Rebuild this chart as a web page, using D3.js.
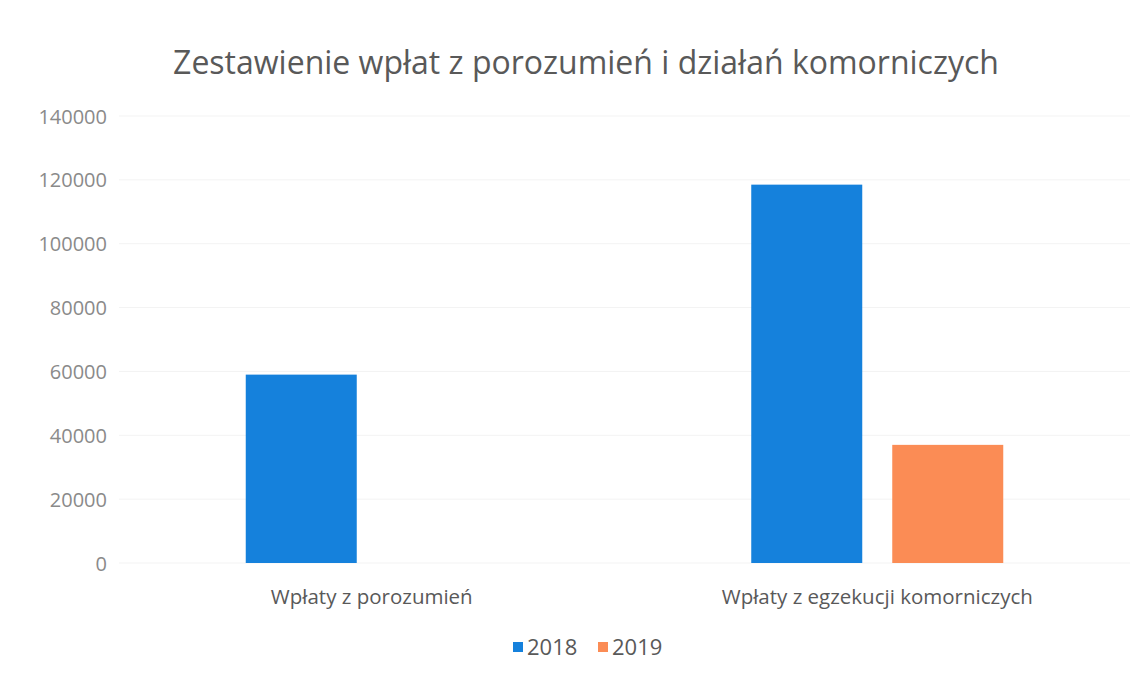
<!DOCTYPE html>
<html>
<head>
<meta charset="utf-8">
<script src="https://cdn.jsdelivr.net/npm/d3@7"></script>
<style>
  body { margin: 0; background: #fff; }
  text { font-family: "Open Sans", "DejaVu Sans", sans-serif; }
</style>
</head>
<body>
<script>
// chart data
const categories = ["Wpłaty z porozumień", "Wpłaty z egzekucji komorniczych"];
const seriesNames = ["2018", "2019"];
const values2018 = [59000, 118500];
const values2019 = [0, 37000];
const yTicks = [0, 20000, 40000, 60000, 80000, 100000, 120000, 140000];
const colors = ["#1581dc", "#fb8c55"];

const W = 1146, H = 676;
const svg = d3.select("body")
  .append("svg")
  .attr("width", W)
  .attr("height", H);

const plotLeft = 119, plotRight = 1130;
const plotTop = 115, plotBottom = 563;

const x0 = d3.scaleBand()
  .domain(categories)
  .range([plotLeft, plotRight]);

// two bars of ~111px with a 30px gap inside each group
const groupW = 252;
const x1 = d3.scaleBand()
  .domain(seriesNames)
  .range([0, groupW])
  .paddingInner(30 / 141);

const y = d3.scaleLinear()
  .domain([0, 140000])
  .range([plotBottom, plotTop + 1]);

// faint grid
svg.append("g")
  .selectAll("line")
  .data(yTicks)
  .join("line")
  .attr("x1", plotLeft)
  .attr("x2", plotRight)
  .attr("y1", d => y(d))
  .attr("y2", d => y(d))
  .attr("stroke", "#f3f3f3")
  .attr("stroke-width", 1);

// y axis labels
const yAxis = d3.axisLeft(y).tickValues(yTicks).tickFormat(d3.format("d")).tickSize(0).tickPadding(0);
svg.append("g")
  .attr("transform", "translate(107,0)")
  .call(yAxis)
  .call(g => g.select(".domain").remove())
  .call(g => g.selectAll("text")
    .attr("fill", "#8a8a8a")
    .attr("font-size", "20px")
    .attr("font-family", "'Open Sans', sans-serif")
    .attr("dy", "0.35em"));

// bars
const rows = categories.map((c, i) => ({cat: c, vals: [values2018[i], values2019[i]]}));
const groupOffset = (x0.bandwidth() - groupW) / 2;

svg.append("g")
  .selectAll("g")
  .data(rows)
  .join("g")
  .attr("transform", d => `translate(${x0(d.cat) + groupOffset},0)`)
  .selectAll("rect")
  .data(d => d.vals.map((v, j) => ({key: seriesNames[j], v: v, j: j})))
  .join("rect")
  .attr("x", d => x1(d.key))
  .attr("width", x1.bandwidth())
  .attr("y", d => y(d.v))
  .attr("height", d => plotBottom - y(d.v))
  .attr("fill", d => colors[d.j]);

// category labels
const xAxis = d3.axisBottom(x0).tickSize(0).tickPadding(0);
svg.append("g")
  .attr("transform", `translate(0,${plotBottom})`)
  .call(xAxis)
  .call(g => g.select(".domain").remove())
  .call(g => g.selectAll("text")
    .attr("fill", "#595959")
    .attr("font-size", "20.5px")
    .attr("font-family", "'Open Sans', sans-serif")
    .attr("dy", "0")
    .attr("y", 41));

// title
svg.append("text")
  .attr("x", 586)
  .attr("y", 74)
  .attr("text-anchor", "middle")
  .attr("fill", "#595959")
  .attr("font-size", "32px")
  .text("Zestawienie wpłat z porozumień i działań komorniczych");

// legend
const legend = svg.append("g").attr("transform", "translate(513,647)");
const legendX = [0, 85];
seriesNames.forEach((s, i) => {
  const g = legend.append("g").attr("transform", `translate(${legendX[i]},0)`);
  g.append("rect")
    .attr("x", 0).attr("y", -5)
    .attr("width", 10).attr("height", 10)
    .attr("fill", colors[i]);
  g.append("text")
    .attr("x", 14).attr("y", 0)
    .attr("dy", "0.35em")
    .attr("fill", "#595959")
    .attr("font-size", "22px")
    .text(s);
});
</script>
</body>
</html>
